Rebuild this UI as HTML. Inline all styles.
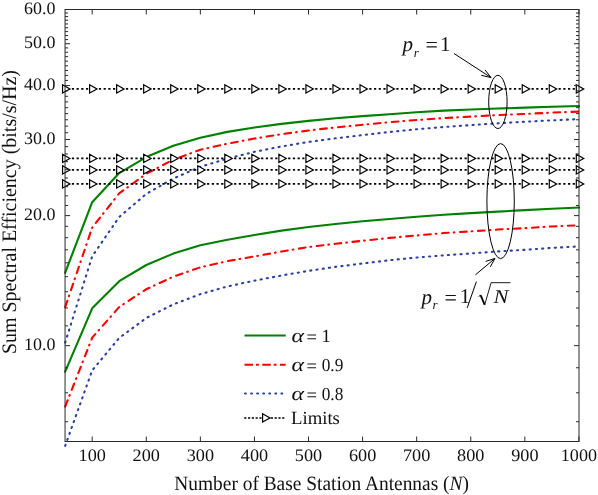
<!DOCTYPE html>
<html><head><meta charset="utf-8"><title>Chart</title>
<style>html,body{margin:0;padding:0;background:#fff;}svg text{text-rendering:geometricPrecision;}body{width:598px;height:495px;overflow:hidden;position:relative;font-family:"Liberation Serif",serif;}</style>
</head><body>
<svg width="598" height="495" viewBox="0 0 598 495" style="display:block;position:absolute;left:0;top:0">
<rect width="598" height="495" fill="#fff"/>
<path d="M65.16,272.67 L92.20,202.18 L119.24,173.05 L146.28,157.03 L173.32,145.78 L200.36,137.73 L227.40,131.87 L254.44,127.51 L281.48,123.86 L308.52,120.85 L335.56,118.29 L362.60,116.15 L389.64,114.31 L416.68,112.32 L443.72,110.63 L470.76,109.57 L497.80,108.53 L524.84,107.64 L551.88,106.71 L578.92,106.01" stroke="#008000" stroke-width="2.1" fill="none" stroke-linejoin="round" stroke-linecap="square"/>
<path d="M65.16,371.59 L92.20,308.29 L119.24,281.22 L146.28,265.00 L173.32,253.62 L200.36,245.20 L227.40,239.79 L254.44,235.06 L281.48,230.59 L308.52,226.96 L335.56,224.03 L362.60,221.20 L389.64,218.93 L416.68,216.74 L443.72,214.76 L470.76,213.17 L497.80,211.60 L524.84,210.15 L551.88,208.70 L578.92,207.60" stroke="#008000" stroke-width="2.1" fill="none" stroke-linejoin="round" stroke-linecap="square"/>
<path d="M65.16,307.21 L92.20,227.60 L119.24,193.30 L146.28,173.80 L173.32,159.65 L200.36,149.76 L227.40,143.69 L254.44,138.57 L281.48,134.16 L308.52,130.49 L335.56,127.41 L362.60,124.78 L389.64,122.14 L416.68,120.01 L443.72,118.10 L470.76,116.59 L497.80,115.07 L524.84,113.92 L551.88,112.62 L578.92,111.58" stroke="#ff0000" stroke-width="2.1" fill="none" stroke-linejoin="round" stroke-linecap="round" stroke-dasharray="6.7 5.0 0.7 5.6"/>
<path d="M65.16,406.55 L92.20,337.68 L119.24,307.00 L146.28,289.22 L173.32,276.67 L200.36,267.31 L227.40,261.16 L254.44,256.43 L281.48,251.55 L308.52,247.01 L335.56,243.75 L362.60,240.76 L389.64,237.91 L416.68,235.45 L443.72,233.06 L470.76,231.38 L497.80,229.57 L524.84,228.19 L551.88,226.43 L578.92,225.31" stroke="#ff0000" stroke-width="2.1" fill="none" stroke-linejoin="round" stroke-linecap="round" stroke-dasharray="6.7 5.0 0.7 5.6"/>
<path d="M65.16,342.60 L92.20,256.30 L119.24,216.97 L146.28,193.91 L173.32,178.52 L200.36,166.80 L227.40,158.64 L254.44,151.84 L281.48,146.49 L308.52,141.92 L335.56,138.31 L362.60,135.08 L389.64,131.96 L416.68,129.23 L443.72,127.04 L470.76,125.08 L497.80,123.32 L524.84,121.74 L551.88,120.34 L578.92,119.10" stroke="#2a3fa0" stroke-width="2.1" fill="none" stroke-linejoin="round" stroke-linecap="round" stroke-dasharray="1.1 5.2"/>
<path d="M65.16,445.80 L92.20,370.39 L119.24,337.90 L146.28,317.99 L173.32,304.37 L200.36,294.13 L227.40,286.48 L254.44,280.65 L281.48,275.50 L308.52,270.84 L335.56,266.85 L362.60,263.47 L389.64,260.23 L416.68,257.51 L443.72,255.37 L470.76,253.45 L497.80,251.42 L524.84,249.82 L551.88,247.89 L578.92,246.42" stroke="#2a3fa0" stroke-width="2.1" fill="none" stroke-linejoin="round" stroke-linecap="round" stroke-dasharray="1.1 5.2"/>
<path d="M65.16,88.9 H578.92" stroke="#000" stroke-width="1.7" stroke-dasharray="0 6.7 2.2 2.5 2.2 2.5 2.2 2.5 2.2 4.04" fill="none"/>
<path d="M62.56,84.80 L69.96,88.90 L62.56,93.00 Z M89.60,84.80 L97.00,88.90 L89.60,93.00 Z M116.64,84.80 L124.04,88.90 L116.64,93.00 Z M143.68,84.80 L151.08,88.90 L143.68,93.00 Z M170.72,84.80 L178.12,88.90 L170.72,93.00 Z M197.76,84.80 L205.16,88.90 L197.76,93.00 Z M224.80,84.80 L232.20,88.90 L224.80,93.00 Z M251.84,84.80 L259.24,88.90 L251.84,93.00 Z M278.88,84.80 L286.28,88.90 L278.88,93.00 Z M305.92,84.80 L313.32,88.90 L305.92,93.00 Z M332.96,84.80 L340.36,88.90 L332.96,93.00 Z M360.00,84.80 L367.40,88.90 L360.00,93.00 Z M387.04,84.80 L394.44,88.90 L387.04,93.00 Z M414.08,84.80 L421.48,88.90 L414.08,93.00 Z M441.12,84.80 L448.52,88.90 L441.12,93.00 Z M468.16,84.80 L475.56,88.90 L468.16,93.00 Z M495.20,84.80 L502.60,88.90 L495.20,93.00 Z M522.24,84.80 L529.64,88.90 L522.24,93.00 Z M549.28,84.80 L556.68,88.90 L549.28,93.00 Z M576.32,84.80 L583.72,88.90 L576.32,93.00 Z" stroke="#000" stroke-width="1.2" fill="#fff" stroke-linejoin="miter"/>
<path d="M65.16,158.4 H578.92" stroke="#000" stroke-width="1.7" stroke-dasharray="0 6.7 2.2 2.5 2.2 2.5 2.2 2.5 2.2 4.04" fill="none"/>
<path d="M62.56,154.30 L69.96,158.40 L62.56,162.50 Z M89.60,154.30 L97.00,158.40 L89.60,162.50 Z M116.64,154.30 L124.04,158.40 L116.64,162.50 Z M143.68,154.30 L151.08,158.40 L143.68,162.50 Z M170.72,154.30 L178.12,158.40 L170.72,162.50 Z M197.76,154.30 L205.16,158.40 L197.76,162.50 Z M224.80,154.30 L232.20,158.40 L224.80,162.50 Z M251.84,154.30 L259.24,158.40 L251.84,162.50 Z M278.88,154.30 L286.28,158.40 L278.88,162.50 Z M305.92,154.30 L313.32,158.40 L305.92,162.50 Z M332.96,154.30 L340.36,158.40 L332.96,162.50 Z M360.00,154.30 L367.40,158.40 L360.00,162.50 Z M387.04,154.30 L394.44,158.40 L387.04,162.50 Z M414.08,154.30 L421.48,158.40 L414.08,162.50 Z M441.12,154.30 L448.52,158.40 L441.12,162.50 Z M468.16,154.30 L475.56,158.40 L468.16,162.50 Z M495.20,154.30 L502.60,158.40 L495.20,162.50 Z M522.24,154.30 L529.64,158.40 L522.24,162.50 Z M549.28,154.30 L556.68,158.40 L549.28,162.50 Z M576.32,154.30 L583.72,158.40 L576.32,162.50 Z" stroke="#000" stroke-width="1.2" fill="#fff" stroke-linejoin="miter"/>
<path d="M65.16,169.9 H578.92" stroke="#000" stroke-width="1.7" stroke-dasharray="0 6.7 2.2 2.5 2.2 2.5 2.2 2.5 2.2 4.04" fill="none"/>
<path d="M62.56,165.80 L69.96,169.90 L62.56,174.00 Z M89.60,165.80 L97.00,169.90 L89.60,174.00 Z M116.64,165.80 L124.04,169.90 L116.64,174.00 Z M143.68,165.80 L151.08,169.90 L143.68,174.00 Z M170.72,165.80 L178.12,169.90 L170.72,174.00 Z M197.76,165.80 L205.16,169.90 L197.76,174.00 Z M224.80,165.80 L232.20,169.90 L224.80,174.00 Z M251.84,165.80 L259.24,169.90 L251.84,174.00 Z M278.88,165.80 L286.28,169.90 L278.88,174.00 Z M305.92,165.80 L313.32,169.90 L305.92,174.00 Z M332.96,165.80 L340.36,169.90 L332.96,174.00 Z M360.00,165.80 L367.40,169.90 L360.00,174.00 Z M387.04,165.80 L394.44,169.90 L387.04,174.00 Z M414.08,165.80 L421.48,169.90 L414.08,174.00 Z M441.12,165.80 L448.52,169.90 L441.12,174.00 Z M468.16,165.80 L475.56,169.90 L468.16,174.00 Z M495.20,165.80 L502.60,169.90 L495.20,174.00 Z M522.24,165.80 L529.64,169.90 L522.24,174.00 Z M549.28,165.80 L556.68,169.90 L549.28,174.00 Z M576.32,165.80 L583.72,169.90 L576.32,174.00 Z" stroke="#000" stroke-width="1.2" fill="#fff" stroke-linejoin="miter"/>
<path d="M65.16,183.9 H578.92" stroke="#000" stroke-width="1.7" stroke-dasharray="0 6.7 2.2 2.5 2.2 2.5 2.2 2.5 2.2 4.04" fill="none"/>
<path d="M62.56,179.80 L69.96,183.90 L62.56,188.00 Z M89.60,179.80 L97.00,183.90 L89.60,188.00 Z M116.64,179.80 L124.04,183.90 L116.64,188.00 Z M143.68,179.80 L151.08,183.90 L143.68,188.00 Z M170.72,179.80 L178.12,183.90 L170.72,188.00 Z M197.76,179.80 L205.16,183.90 L197.76,188.00 Z M224.80,179.80 L232.20,183.90 L224.80,188.00 Z M251.84,179.80 L259.24,183.90 L251.84,188.00 Z M278.88,179.80 L286.28,183.90 L278.88,188.00 Z M305.92,179.80 L313.32,183.90 L305.92,188.00 Z M332.96,179.80 L340.36,183.90 L332.96,188.00 Z M360.00,179.80 L367.40,183.90 L360.00,188.00 Z M387.04,179.80 L394.44,183.90 L387.04,188.00 Z M414.08,179.80 L421.48,183.90 L414.08,188.00 Z M441.12,179.80 L448.52,183.90 L441.12,188.00 Z M468.16,179.80 L475.56,183.90 L468.16,188.00 Z M495.20,179.80 L502.60,183.90 L495.20,188.00 Z M522.24,179.80 L529.64,183.90 L522.24,188.00 Z M549.28,179.80 L556.68,183.90 L549.28,188.00 Z M576.32,179.80 L583.72,183.90 L576.32,188.00 Z" stroke="#000" stroke-width="1.2" fill="#fff" stroke-linejoin="miter"/>
<g stroke="#2a2a2a" stroke-width="1" fill="none" shape-rendering="auto">
<rect x="65.05" y="9.5" width="513.95" height="432.0"/>
<path d="M92.20,441.5 v-5 M92.20,9.5 v5"/>
<path d="M146.28,441.5 v-5 M146.28,9.5 v5"/>
<path d="M200.36,441.5 v-5 M200.36,9.5 v5"/>
<path d="M254.44,441.5 v-5 M254.44,9.5 v5"/>
<path d="M308.52,441.5 v-5 M308.52,9.5 v5"/>
<path d="M362.60,441.5 v-5 M362.60,9.5 v5"/>
<path d="M416.68,441.5 v-5 M416.68,9.5 v5"/>
<path d="M470.76,441.5 v-5 M470.76,9.5 v5"/>
<path d="M524.84,441.5 v-5 M524.84,9.5 v5"/>
<path d="M578.92,441.5 v-5 M578.92,9.5 v5"/>
<path d="M65.05,345.66 h5 M579.0,345.66 h-5"/>
<path d="M65.05,215.62 h5 M579.0,215.62 h-5"/>
<path d="M65.05,139.54 h5 M579.0,139.54 h-5"/>
<path d="M65.05,85.57 h5 M579.0,85.57 h-5"/>
<path d="M65.05,43.71 h5 M579.0,43.71 h-5"/>
<path d="M65.05,9.50 h5 M579.0,9.50 h-5"/>
<path d="M65.05,421.73 h3 M579.0,421.73 h-3"/>
<path d="M65.05,392.81 h3 M579.0,392.81 h-3"/>
<path d="M65.05,367.76 h3 M579.0,367.76 h-3"/>
<path d="M65.05,325.89 h3 M579.0,325.89 h-3"/>
<path d="M65.05,308.01 h3 M579.0,308.01 h-3"/>
<path d="M65.05,291.69 h3 M579.0,291.69 h-3"/>
<path d="M65.05,276.67 h3 M579.0,276.67 h-3"/>
<path d="M65.05,262.77 h3 M579.0,262.77 h-3"/>
<path d="M65.05,249.82 h3 M579.0,249.82 h-3"/>
<path d="M65.05,237.71 h3 M579.0,237.71 h-3"/>
<path d="M65.05,226.34 h3 M579.0,226.34 h-3"/>
<path d="M65.05,205.47 h3 M579.0,205.47 h-3"/>
<path d="M65.05,195.85 h3 M579.0,195.85 h-3"/>
<path d="M65.05,186.70 h3 M579.0,186.70 h-3"/>
<path d="M65.05,177.97 h3 M579.0,177.97 h-3"/>
<path d="M65.05,169.63 h3 M579.0,169.63 h-3"/>
<path d="M65.05,161.64 h3 M579.0,161.64 h-3"/>
<path d="M65.05,153.98 h3 M579.0,153.98 h-3"/>
<path d="M65.05,146.63 h3 M579.0,146.63 h-3"/>
<path d="M65.05,132.72 h3 M579.0,132.72 h-3"/>
<path d="M65.05,126.14 h3 M579.0,126.14 h-3"/>
<path d="M65.05,119.78 h3 M579.0,119.78 h-3"/>
<path d="M65.05,113.63 h3 M579.0,113.63 h-3"/>
<path d="M65.05,107.67 h3 M579.0,107.67 h-3"/>
<path d="M65.05,101.90 h3 M579.0,101.90 h-3"/>
<path d="M65.05,96.30 h3 M579.0,96.30 h-3"/>
<path d="M65.05,90.86 h3 M579.0,90.86 h-3"/>
<path d="M65.05,80.43 h3 M579.0,80.43 h-3"/>
<path d="M65.05,75.43 h3 M579.0,75.43 h-3"/>
<path d="M65.05,70.55 h3 M579.0,70.55 h-3"/>
<path d="M65.05,65.80 h3 M579.0,65.80 h-3"/>
<path d="M65.05,61.17 h3 M579.0,61.17 h-3"/>
<path d="M65.05,56.65 h3 M579.0,56.65 h-3"/>
<path d="M65.05,52.24 h3 M579.0,52.24 h-3"/>
<path d="M65.05,47.92 h3 M579.0,47.92 h-3"/>
<path d="M65.05,39.58 h3 M579.0,39.58 h-3"/>
<path d="M65.05,35.55 h3 M579.0,35.55 h-3"/>
<path d="M65.05,31.60 h3 M579.0,31.60 h-3"/>
<path d="M65.05,27.73 h3 M579.0,27.73 h-3"/>
<path d="M65.05,23.94 h3 M579.0,23.94 h-3"/>
<path d="M65.05,20.22 h3 M579.0,20.22 h-3"/>
<path d="M65.05,16.58 h3 M579.0,16.58 h-3"/>
<path d="M65.05,13.01 h3 M579.0,13.01 h-3"/>
</g>
<g stroke="#000" stroke-width="1" fill="none">
<ellipse cx="497.9" cy="101.9" rx="9.2" ry="26.6"/>
<ellipse cx="500.6" cy="201.1" rx="13.7" ry="57.5"/>
<path d="M454,53.5 L491.1,77.6 M485.0,69.9 L491.1,77.6 L481.3,75.3"/>
<path d="M475.5,274.8 L495.0,258.4 M485.7,261.4 L495.0,258.4 L490.3,266.8"/>
</g>
<path d="M244.5,335.5 H285.7" stroke="#008000" stroke-width="2.0"/>
<path d="M244.5,364.8 H285.7" stroke="#ff0000" stroke-width="2.1" stroke-dasharray="8.6 2.9 2.8 3.4"/>
<path d="M245.0,393.5 H284" stroke="#2a3fa0" stroke-width="2.0" stroke-dasharray="0.9 5.16" stroke-linecap="round"/>
<path d="M244.2,418.0 H285" stroke="#000" stroke-width="1.7" stroke-dasharray="2.2 1.6"/>
<path d="M262.60,413.80 L270.00,417.90 L262.60,422.00 Z" stroke="#000" stroke-width="1.2" fill="#fff"/>
<defs><filter id="nf" x="0" y="0" width="598" height="495" filterUnits="userSpaceOnUse"><feOffset dx="0" dy="0"/></filter></defs><g filter="url(#nf)">
<text x="291.6" y="341.9" font-size="19.5" text-anchor="start" font-family="Liberation Serif, serif" fill="#111" textLength="12.5" lengthAdjust="spacingAndGlyphs" font-style="italic">α</text>
<text x="306.5" y="343.4" font-size="18.6" text-anchor="start" font-family="Liberation Serif, serif" fill="#111" >=</text>
<text x="321.6" y="341.9" font-size="18.5" text-anchor="start" font-family="Liberation Serif, serif" fill="#111" >1</text>
<text x="291.6" y="370.8" font-size="19.5" text-anchor="start" font-family="Liberation Serif, serif" fill="#111" textLength="12.5" lengthAdjust="spacingAndGlyphs" font-style="italic">α</text>
<text x="306.5" y="372.3" font-size="18.6" text-anchor="start" font-family="Liberation Serif, serif" fill="#111" >=</text>
<text x="321.7" y="370.8" font-size="18.5" text-anchor="start" font-family="Liberation Serif, serif" fill="#111" textLength="21.6" lengthAdjust="spacingAndGlyphs" >0.9</text>
<text x="291.6" y="399.5" font-size="19.5" text-anchor="start" font-family="Liberation Serif, serif" fill="#111" textLength="12.5" lengthAdjust="spacingAndGlyphs" font-style="italic">α</text>
<text x="306.5" y="401.0" font-size="18.6" text-anchor="start" font-family="Liberation Serif, serif" fill="#111" >=</text>
<text x="321.7" y="399.5" font-size="18.5" text-anchor="start" font-family="Liberation Serif, serif" fill="#111" textLength="21.6" lengthAdjust="spacingAndGlyphs" >0.8</text>
<text x="291.0" y="423.7" font-size="18.6" text-anchor="start" font-family="Liberation Serif, serif" fill="#111" textLength="48.9" lengthAdjust="spacingAndGlyphs" >Limits</text>
<text x="55.5" y="350.061340165734" font-size="17.5" text-anchor="end" font-family="Liberation Serif, serif" fill="#111" textLength="31.4" lengthAdjust="spacingAndGlyphs" >10.0</text>
<text x="55.5" y="220.01638203889416" font-size="17.5" text-anchor="end" font-family="Liberation Serif, serif" fill="#111" textLength="31.4" lengthAdjust="spacingAndGlyphs" >20.0</text>
<text x="55.5" y="143.94495812683988" font-size="17.5" text-anchor="end" font-family="Liberation Serif, serif" fill="#111" textLength="31.4" lengthAdjust="spacingAndGlyphs" >30.0</text>
<text x="55.5" y="89.9714239120543" font-size="17.5" text-anchor="end" font-family="Liberation Serif, serif" fill="#111" textLength="31.4" lengthAdjust="spacingAndGlyphs" >40.0</text>
<text x="55.5" y="48.10629829257392" font-size="17.5" text-anchor="end" font-family="Liberation Serif, serif" fill="#111" textLength="31.4" lengthAdjust="spacingAndGlyphs" >50.0</text>
<text x="55.5" y="13.9" font-size="17.5" text-anchor="end" font-family="Liberation Serif, serif" fill="#111" textLength="31.4" lengthAdjust="spacingAndGlyphs" >60.0</text>
<text x="92.19999999999999" y="461.4" font-size="17.5" text-anchor="middle" font-family="Liberation Serif, serif" fill="#111" textLength="27.3" lengthAdjust="spacingAndGlyphs" >100</text>
<text x="146.27999999999997" y="461.4" font-size="17.5" text-anchor="middle" font-family="Liberation Serif, serif" fill="#111" textLength="27.3" lengthAdjust="spacingAndGlyphs" >200</text>
<text x="200.35999999999999" y="461.4" font-size="17.5" text-anchor="middle" font-family="Liberation Serif, serif" fill="#111" textLength="27.3" lengthAdjust="spacingAndGlyphs" >300</text>
<text x="254.43999999999997" y="461.4" font-size="17.5" text-anchor="middle" font-family="Liberation Serif, serif" fill="#111" textLength="27.3" lengthAdjust="spacingAndGlyphs" >400</text>
<text x="308.52" y="461.4" font-size="17.5" text-anchor="middle" font-family="Liberation Serif, serif" fill="#111" textLength="27.3" lengthAdjust="spacingAndGlyphs" >500</text>
<text x="362.6" y="461.4" font-size="17.5" text-anchor="middle" font-family="Liberation Serif, serif" fill="#111" textLength="27.3" lengthAdjust="spacingAndGlyphs" >600</text>
<text x="416.67999999999995" y="461.4" font-size="17.5" text-anchor="middle" font-family="Liberation Serif, serif" fill="#111" textLength="27.3" lengthAdjust="spacingAndGlyphs" >700</text>
<text x="470.76" y="461.4" font-size="17.5" text-anchor="middle" font-family="Liberation Serif, serif" fill="#111" textLength="27.3" lengthAdjust="spacingAndGlyphs" >800</text>
<text x="524.8399999999999" y="461.4" font-size="17.5" text-anchor="middle" font-family="Liberation Serif, serif" fill="#111" textLength="27.3" lengthAdjust="spacingAndGlyphs" >900</text>
<text x="578.92" y="461.4" font-size="17.5" text-anchor="middle" font-family="Liberation Serif, serif" fill="#111" textLength="36.2" lengthAdjust="spacingAndGlyphs" >1000</text>
<text x="174.3" y="490.3" font-size="20.3" text-anchor="start" font-family="Liberation Serif, serif" fill="#111" textLength="294.6" lengthAdjust="spacingAndGlyphs" >Number of Base Station Antennas (<tspan font-style="italic">N</tspan>)</text>
<text transform="translate(15.7,354.1) rotate(-90)" font-size="20.5" font-family="Liberation Serif, serif" fill="#111" textLength="284.1" lengthAdjust="spacingAndGlyphs">Sum Spectral Efficiency (bits/s/Hz)</text>
<text x="402.6" y="50.9" font-size="21" text-anchor="start" font-family="Liberation Serif, serif" fill="#111" font-style="italic">p</text>
<text x="413.8" y="56.8" font-size="13" text-anchor="start" font-family="Liberation Serif, serif" fill="#111" font-style="italic">r</text>
<text x="425.4" y="52.0" font-size="22" text-anchor="start" font-family="Liberation Serif, serif" fill="#111" >=</text>
<text x="440.0" y="50.7" font-size="21" text-anchor="start" font-family="Liberation Serif, serif" fill="#111" >1</text>
<text x="421.6" y="303.5" font-size="21" text-anchor="start" font-family="Liberation Serif, serif" fill="#111" font-style="italic">p</text>
<text x="432.6" y="309.0" font-size="13" text-anchor="start" font-family="Liberation Serif, serif" fill="#111" font-style="italic">r</text>
<text x="444.6" y="304.7" font-size="22" text-anchor="start" font-family="Liberation Serif, serif" fill="#111" >=</text>
<text x="459.8" y="303.4" font-size="21" text-anchor="start" font-family="Liberation Serif, serif" fill="#111" >1</text>
<g stroke="#000" fill="none">
<path d="M467.2,307.9 L476.4,281.6" stroke-width="1"/>
<path d="M478.6,296.5 L480.6,295.2" stroke-width="0.9"/>
<path d="M480.6,295.2 L484.7,304.8" stroke-width="1.8"/>
<path d="M484.7,304.8 L491.1,282.7 H510.4" stroke-width="0.9"/>
</g>
<text x="493.6" y="303.3" font-size="19.6" text-anchor="start" font-family="Liberation Serif, serif" fill="#111" textLength="15.0" lengthAdjust="spacingAndGlyphs" font-style="italic">N</text>
</g>
</svg>
</body></html>
